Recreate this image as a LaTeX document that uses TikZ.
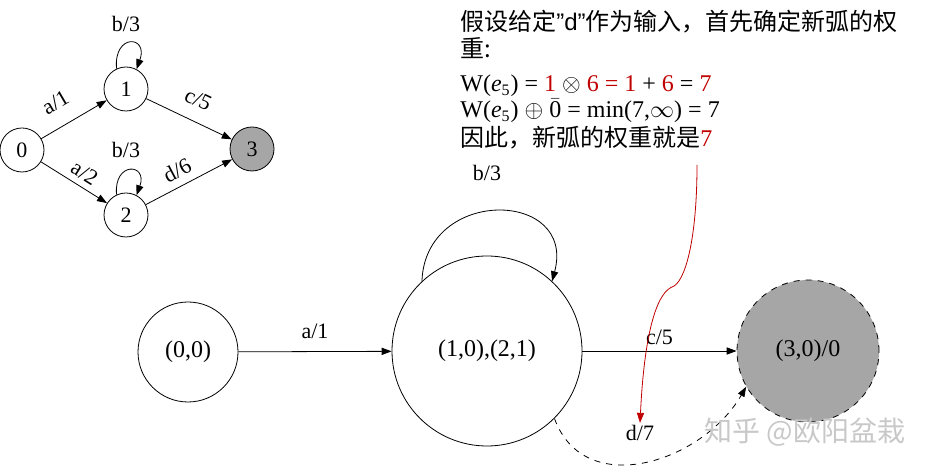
\documentclass[tikz,border=0pt]{standalone}
\usepackage{fontspec}
\setmainfont{Liberation Serif}
\newfontfamily\cjk{Noto Sans CJK SC}
\newfontfamily\lat{Liberation Sans}
\usetikzlibrary{arrows.meta,positioning}
\definecolor{Mark}{HTML}{C00000}
\definecolor{Fin}{HTML}{A6A6A6}
\definecolor{Wmark}{HTML}{C8C8C8}

\begin{document}
\begin{tikzpicture}[x=0.5pt,y=0.5pt,
    st/.style={draw,circle,inner sep=0pt,minimum size=22pt,font=\fontsize{11}{13}\selectfont},
    big/.style={draw,circle,inner sep=0pt,font=\fontsize{12}{14}\selectfont},
    lab/.style={font=\fontsize{11}{13}\selectfont,inner sep=1pt},
    txt/.style={anchor=base west,inner sep=0pt,font=\cjk\fontsize{12}{14}\selectfont},
    eqn/.style={anchor=base west,inner sep=0pt,font=\fontsize{12}{14}\selectfont},
    >={Triangle[length=5pt,width=3.6pt]}]
  \useasboundingbox (0,0) rectangle (930,-469);
  % small automaton
  \node[st] (s0) at (22,-150) {0};
  \node[st] (s1) at (126,-89) {1};
  \node[st] (s2) at (126,-215) {2};
  \node[st,fill=Fin] (s3) at (252,-149) {3};
  \draw[->] (s0) -- node[lab,sloped,above=7pt,pos=0.4] {a/1} (s1);
  \draw[->] (s0) -- node[lab,sloped,above=2pt,pos=0.55] {a/2} (s2);
  \draw[->] (s1) -- node[lab,sloped,above=6pt] {c/5} (s3);
  \draw[->] (s2) -- node[lab,sloped,above=3pt,pos=0.45] {d/6} (s3);
  \draw[->] (s1.115) .. controls +(95:36) and +(70:36) .. (s1.62);
  \draw[->] (s2.115) .. controls +(95:34) and +(70:34) .. (s2.62);
  \node[lab] (l1) at (126,-24) {b/3};
  \node[lab] (l2) at (126,-150) {b/3};
  % note
  \node[txt] (t1) at (460,-31) {假设给定{\lat ”d”}作为输入，首先确定新弧的权};
  \node[txt] (t2) at (460,-58) {重:};
  \node[eqn] (t3) at (460,-92) {W(\textit{e}\textsubscript{5}) = \textcolor{Mark}{1} {\large$\otimes$} \textcolor{Mark}{6 = 1} + \textcolor{Mark}{6} = \textcolor{Mark}{7}};
  \node[eqn] (t4) at (460,-118) {W(\textit{e}\textsubscript{5}) {\large$\oplus$} $\bar{\mbox{0}}$ = min(7,$\infty$) = 7};
  \node[txt] (t5) at (460,-147) {因此，新弧的权重就是\textcolor{Mark}{\rmfamily 7}};
  % determinized part
  \node[big,minimum size=50pt] (p0) at (188,-352) {(0,0)};
  \node[big,minimum size=95pt] (p1) at (487,-351) {(1,0),(2,1)};
  \node[big,minimum size=71pt,fill=Fin,dashed] (p3) at (808,-351) {(3,0)/0};
  \draw[->] (p0) -- node[lab,above=5pt] {a/1} (p1);
  \draw[->] (p1) -- node[lab,above=2pt] {c/5} (p3);
  \draw[->] (p1.133) .. controls +(88:95) and +(75:95) .. (p1.47);
  \node[lab] (l3) at (487,-173) {b/3};
  \node[lab] (d7) at (640,-433) {d/7};
  \draw[->,dashed] (p1.-45) to[out=-70,in=-120,looseness=1.15] (p3.210);
  \coordinate (rs) at (697,-165);
  \draw[->,Mark] (rs) .. controls (697,-240) and (685,-283) .. (672,-287)
    .. controls (660,-292) and (645,-320) .. (d7.north);
  \node[font=\cjk\fontsize{14}{16}\selectfont,text=Wmark] (wm) at (805,-432) {知乎 @欧阳盆栽};
\end{tikzpicture}
\end{document}
